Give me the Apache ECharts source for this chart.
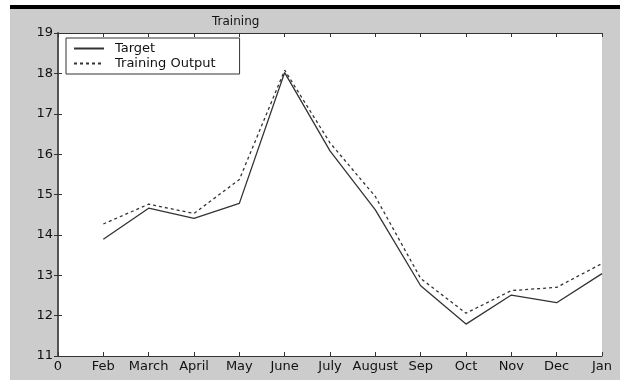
<!DOCTYPE html>
<html>
<head>
<meta charset="utf-8">
<script src="https://cdn.jsdelivr.net/npm/echarts@6/dist/echarts.min.js"></script>
<style>
  html, body { margin: 0; padding: 0; background: #fff; }
  #chart {
    width: 620px; height: 380px;
    background:
      linear-gradient(#000, #000) 10px 5px / 610px 4px no-repeat,
      linear-gradient(#cccccc, #cccccc) 10px 9px / 610px 371px no-repeat,
      #fff;
  }
</style>
</head>
<body>
<div id="chart"></div>
<script>
// ---- data ----
const tickLabels = ['0', 'Feb', 'March', 'April', 'May', 'June', 'July', 'August', 'Sep', 'Oct', 'Nov', 'Dec', 'Jan'];
const monthIndex = [1, 2, 3, 4, 5, 6, 7, 8, 9, 10, 11, 12];
const targetValues = [13.89, 14.66, 14.41, 14.78, 18.02, 16.08, 14.62, 12.74, 11.79, 12.51, 12.32, 13.04];
const outputValues = [14.27, 14.76, 14.53, 15.37, 18.08, 16.28, 14.95, 12.92, 12.06, 12.62, 12.70, 13.29];
const yTicks = [11, 12, 13, 14, 15, 16, 17, 18, 19];

const FONT = 'DejaVu Sans';
const chart = echarts.init(document.getElementById('chart'), null, { renderer: 'canvas' });

const pairs = (xs, ys) => xs.map((x, i) => [x, ys[i]]);

const axisLine = { show: true, lineStyle: { color: '#333', width: 1 } };
const tick = { show: true, inside: true, length: 4, lineStyle: { color: '#333', width: 1 } };

chart.setOption({
  animation: false,
  backgroundColor: 'transparent',
  title: {
    text: 'Training',
    left: 207, top: 11,
    textStyle: { fontFamily: FONT, fontSize: 12, fontWeight: 'normal', color: '#111' }
  },
  legend: {
    orient: 'vertical',
    left: 66, top: 38,
    padding: [4, 24, 4, 7],
    itemWidth: 30, itemHeight: 10, itemGap: 2,
    backgroundColor: '#fff',
    borderColor: '#333', borderWidth: 1,
    itemStyle: { color: 'rgba(0,0,0,0)', borderWidth: 0, opacity: 0 },
    textStyle: { fontFamily: FONT, fontSize: 13, lineHeight: 12, color: '#111', padding: [0, 0, 0, 6] },
    data: ['Target', 'Training Output']
  },
  grid: { left: 58, right: 18, top: 33, bottom: 24, show: true, backgroundColor: '#fff', borderWidth: 0 },
  xAxis: [{
    type: 'value', min: 0, max: 12, interval: 1, position: 'bottom',
    axisLine: axisLine, axisTick: tick, splitLine: { show: false },
    axisLabel: {
      margin: 4, fontFamily: FONT, fontSize: 13, color: '#111',
      showMinLabel: true, showMaxLabel: true,
      formatter: v => tickLabels[Math.round(v)]
    }
  }, {
    type: 'value', min: 0, max: 12, interval: 1, position: 'top',
    axisLine: axisLine, axisTick: tick, splitLine: { show: false },
    axisLabel: { show: false }
  }],
  yAxis: [{
    type: 'value', min: yTicks[0], max: yTicks[yTicks.length - 1], interval: 1, position: 'left',
    axisLine: axisLine, axisTick: tick, splitLine: { show: false },
    axisLabel: { margin: 5, fontFamily: FONT, fontSize: 13, color: '#111' }
  }, {
    type: 'value', min: yTicks[0], max: yTicks[yTicks.length - 1], interval: 1, position: 'right',
    axisLine: { show: true, lineStyle: { color: '#555', width: 2 } }, axisTick: tick, splitLine: { show: false },
    axisLabel: { show: false }
  }],
  series: [{
    name: 'Target', type: 'line', symbol: 'none',
    data: pairs(monthIndex, targetValues),
    lineStyle: { color: '#333', width: 1.3, type: 'solid' },
    itemStyle: { color: '#333' }
  }, {
    name: 'Training Output', type: 'line', symbol: 'none',
    data: pairs(monthIndex, outputValues),
    lineStyle: { color: '#333', width: 1.3, type: [3, 3] },
    itemStyle: { color: '#333' }
  }]
});
</script>
</body>
</html>
